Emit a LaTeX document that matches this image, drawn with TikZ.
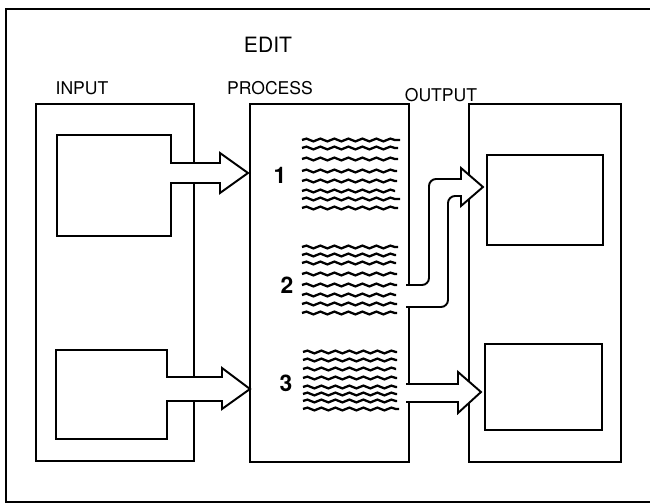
\documentclass[tikz,border=0pt]{standalone}
\usepackage{fontspec}
\setmainfont{TeX Gyre Heros}
\usetikzlibrary{decorations.pathmorphing}

\begin{document}
\begin{tikzpicture}[x=0.02cm,y=-0.02cm,line join=miter,
    panel/.style={line width=1.1pt},
    arrowline/.style={line width=1.1pt,fill=white},
    wavy/.style={line width=1.3pt,decorate,decoration={snake,segment length=0.28cm,amplitude=0.028cm}},
    heading/.style={font=\fontsize{10}{12}\selectfont},
    stepnum/.style={font=\fontsize{13}{15}\selectfont\bfseries}]
\useasboundingbox (0,0) rectangle (650,504);

\draw[line width=1.6pt] (6,9) rectangle (680,502);

\node (edit) at (268,45) {\fontsize{12}{14}\selectfont EDIT};
\node[heading] (input) at (82,88) {INPUT};
\node[heading] (process) at (270,88) {PROCESS};
\node[heading] (output) at (441,95) {OUTPUT};

% panels
\draw[panel] (36,104) rectangle (194,461);
\draw[panel] (250,104) rectangle (409,462);
\draw[panel] (469,104) rectangle (621,462);

% output screens
\draw[panel] (487,155) rectangle (603,245);
\draw[panel] (485,344) rectangle (602,430);

% input boxes with their arrows
\draw[arrowline] (171,163) -- (171,135) -- (57,135) -- (57,236) -- (171,236) -- (171,183)
    -- (220,183) -- (220,193) -- (248,173) -- (220,153) -- (220,163) -- cycle;
\draw[arrowline] (167,377) -- (167,350) -- (56,350) -- (56,439) -- (167,439) -- (167,401)
    -- (222,401) -- (222,409) -- (250,389) -- (222,368) -- (222,377) -- cycle;

% arrows into the output panel
\draw[arrowline] (406,285) [rounded corners=4pt] -- (429,285) -- (429,179) [sharp corners] -- (461,179)
    -- (461,168) -- (483,187) -- (461,206) -- (461,196) [rounded corners=4pt] -- (448,196)
    -- (448,307) [sharp corners] -- (406,307);
\draw[arrowline] (406,384) -- (458,384) -- (458,372) -- (481,392) -- (458,413) -- (458,402) -- (406,402);

% text of the three edits
\foreach \Y/\E in {140/400, 148/398, 159/398, 171/397, 181/397, 191/395, 199/400, 208/398}{
    \draw[wavy] (302,\Y) -- (\E,\Y);
}
\foreach \Y/\E in {247/398, 255/396, 263/396, 274/397, 285/397, 295/396, 304/397, 313/397}{
    \draw[wavy] (302,\Y) -- (\E,\Y);
}
\foreach \Y/\E in {352/397, 360/397, 369/396, 378/397, 387/397, 394/397, 401/397, 409/399}{
    \draw[wavy] (303,\Y) -- (\E,\Y);
}

\node[stepnum] (one) at (280,175) {1};
\node[stepnum] (two) at (287,285) {2};
\node[stepnum] (three) at (286,383) {3};

\end{tikzpicture}
\end{document}
